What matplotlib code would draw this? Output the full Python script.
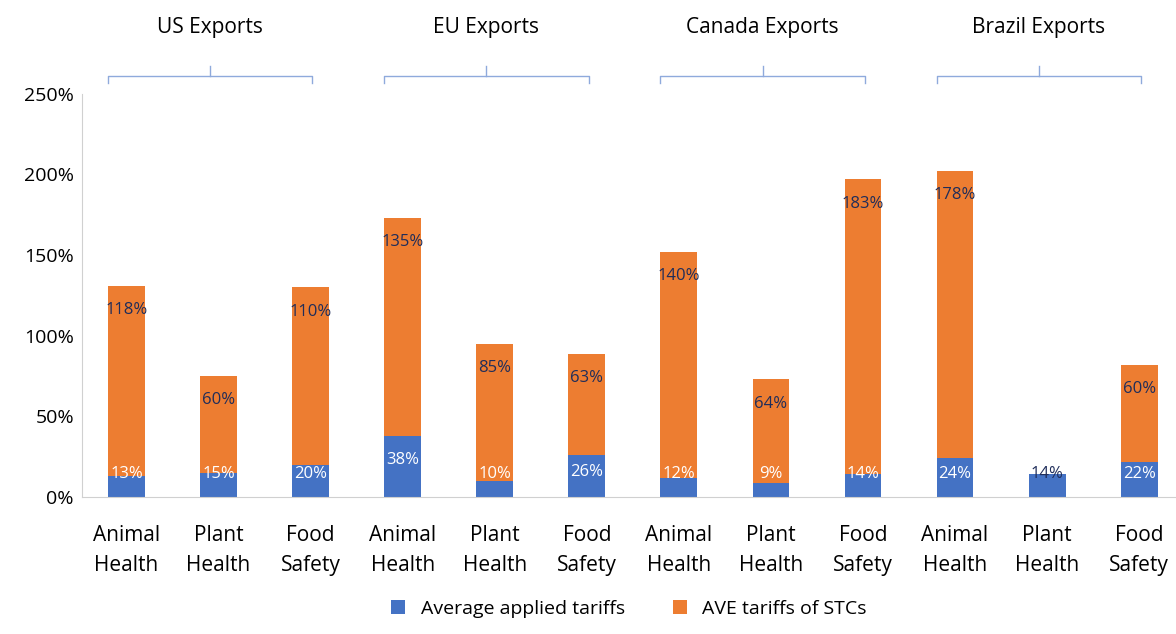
import matplotlib.pyplot as plt
import numpy as np

groups = ["US Exports", "EU Exports", "Canada Exports", "Brazil Exports"]
categories = ["Animal\nHealth", "Plant\nHealth", "Food\nSafety"] * 4
applied = [13, 15, 20, 38, 10, 26, 12, 9, 14, 24, 14, 22]
stc = [118, 60, 110, 135, 85, 63, 140, 64, 183, 178, 0, 60]

blue = "#4472C4"
orange = "#ED7D31"
plt.rcParams["font.family"] = ["Open Sans", "DejaVu Sans"]

fig = plt.figure(figsize=(11.76, 6.34), dpi=100)
ax = fig.add_axes([0.07, 0.216, 0.93, 0.636])
x = np.arange(len(categories))
applied = np.array(applied)
stc = np.array(stc)

ax.bar(x, applied, 0.4, color=blue, label="Average applied tariffs")
ax.bar(x, stc, 0.4, bottom=applied, color=orange, label="AVE tariffs of STCs")

for i in range(len(x)):
    ax.text(x[i], max(14, applied[i] * 0.6), f"{applied[i]}%", ha="center", va="center",
            color="white" if stc[i] > 0 else "#1F2D5A", fontsize=12)
    if stc[i] > 0:
        ax.text(x[i], applied[i] + stc[i] - 15, f"{stc[i]}%", ha="center", va="center",
                color="#1F2D5A", fontsize=12)

ax.set_xlim(-0.48, 11.4)
ax.set_ylim(0, 250)
ax.set_yticks(range(0, 251, 50))
ax.set_yticklabels([f"{v}%" for v in range(0, 251, 50)], fontsize=14)
ax.set_xticks(x)
ax.set_xticklabels(categories, fontsize=15, linespacing=1.55)
ax.tick_params(length=0, pad=20)
ax.tick_params(axis="y", pad=6)
for s in ["top", "right"]:
    ax.spines[s].set_visible(False)
ax.spines["left"].set_color("#D0D0D0")
ax.spines["bottom"].set_color("#D0D0D0")

bc = "#8FAADC"
for g, name in enumerate(groups):
    a, b = 3 * g - 0.2, 3 * g + 2.02
    m = (a + b) / 2
    ax.plot([a, a, b, b], [257, 261, 261, 257], color=bc, lw=1, clip_on=False)
    ax.plot([m, m], [261, 267], color=bc, lw=1, clip_on=False)
    ax.text(m, 291, name, ha="center", va="center", fontsize=15, clip_on=False)

ax.legend(loc="upper center", bbox_to_anchor=(0.5, -0.245), ncol=2, frameon=False,
          fontsize=14, handlelength=0.7, handleheight=0.7, columnspacing=2.5,
          borderaxespad=0, borderpad=0.2)

fig.savefig("out.png", dpi=100)
